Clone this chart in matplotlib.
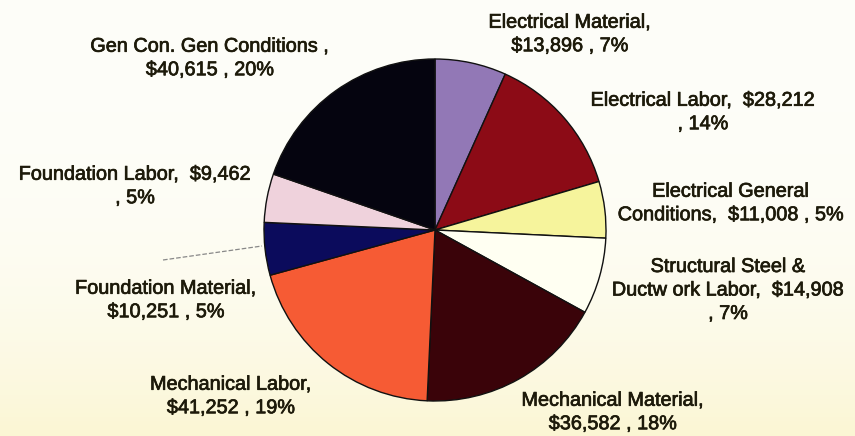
import numpy as np
import matplotlib
matplotlib.use('Agg')
from matplotlib import pyplot as plt
import matplotlib.patheffects as pe

# cost breakdown, clockwise from 12 o'clock
categories = ['Electrical Material', 'Electrical Labor', 'Electrical General Conditions',
              'Structural Steel & Ductwork Labor', 'Mechanical Material', 'Mechanical Labor',
              'Foundation Material', 'Foundation Labor', 'Gen Con. Gen Conditions']
costs = [13896, 28212, 11008, 14908, 36582, 41252, 10251, 9462, 40615]
percents = [7, 14, 5, 7, 18, 19, 5, 5, 20]

colors = ['#9278b6', '#8c0b16', '#f6f49c', '#fffff2', '#3a0309',
          '#f65b34', '#0b0b5c', '#efd2dc', '#05040f']

# label wording / line breaks per slice
label_fmt = [
    'Electrical Material,\n\\${c:,} , {p}%',
    'Electrical Labor,  \\${c:,}\n, {p}%',
    'Electrical General\nConditions,  \\${c:,} , {p}%',
    'Structural Steel &\nDuctw ork Labor,  \\${c:,}\n, {p}%',
    'Mechanical Material,\n\\${c:,} , {p}%',
    'Mechanical Labor,\n\\${c:,} , {p}%',
    'Foundation Material,\n\\${c:,} , {p}%',
    'Foundation Labor,  \\${c:,}\n, {p}%',
    'Gen Con. Gen Conditions ,\n\\${c:,} , {p}%',
]
# label centres in pixels (x, y from top)
label_pos = [(570, 34), (703, 112), (731, 203), (728, 290), (613, 412),
             (231, 396), (166, 300), (135, 186), (210, 58)]

W, H = 855, 436
fig = plt.figure(figsize=(W / 100, H / 100), dpi=100)

# faint paper tint, slightly yellow towards the bottom
bg = fig.add_axes([0, 0, 1, 1])
g = np.linspace(0, 1, 200) ** 3
top = np.array([0.995, 0.995, 0.975])
bot = np.array([0.985, 0.965, 0.83])
grad = top[None, :] * (1 - g[:, None]) + bot[None, :] * g[:, None]
bg.imshow(grad[:, None, :], aspect='auto', extent=[0, 1, 0, 1])
bg.set_axis_off()

cx, cy, r = 435, 230, 171
ax = fig.add_axes([(cx - r) / W, (H - cy - r) / H, 2 * r / W, 2 * r / H])
wedges, _ = ax.pie(costs, colors=colors, startangle=90, counterclock=False,
                   wedgeprops=dict(edgecolor='#111', linewidth=1.0))
for w in wedges:
    w.set_clip_on(False)
ax.set_xlim(-1, 1)
ax.set_ylim(-1, 1)
ax.set_aspect('auto')
ax.set_axis_off()

thick = [pe.withStroke(linewidth=0.5, foreground='#1d1a0a')]
for fmt, c, p, (x, y) in zip(label_fmt, costs, percents, label_pos):
    fig.text(x / W, 1 - y / H, fmt.format(c=c, p=p), ha='center', va='center',
             multialignment='center', fontsize=14.3, family='Liberation Sans',
             color='#1d1a0a', linespacing=1.3, path_effects=thick)

# leader line for the foundation material slice
fig.add_artist(plt.Line2D([163 / W, 262 / W], [1 - 260 / H, 1 - 246 / H],
                          color='#888', lw=0.9, ls='--'))

fig.savefig('out.png', dpi=100, facecolor='white')
